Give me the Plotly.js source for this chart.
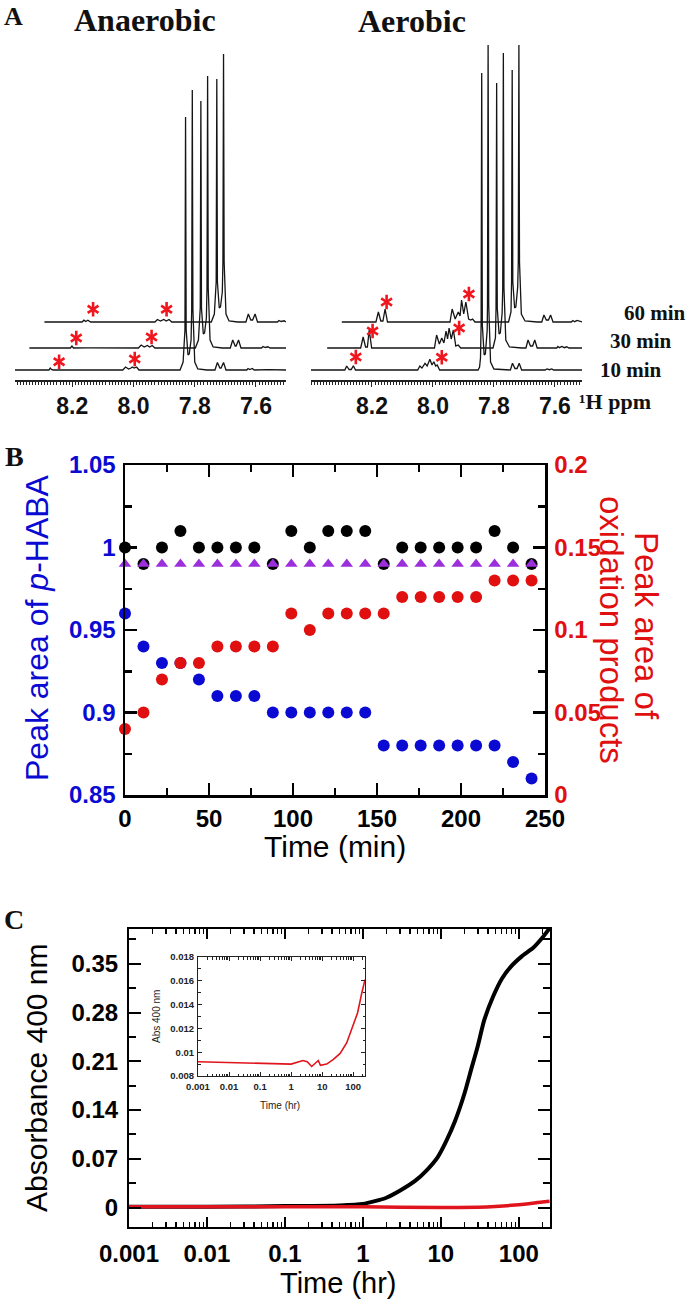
<!DOCTYPE html>
<html>
<head>
<meta charset="utf-8">
<script src="https://cdn.plot.ly/plotly-3.0.1.min.js"></script>
<style>
  html, body { margin: 0; padding: 0; background: #ffffff; }
  #chart { width: 693px; height: 1301px; }
</style>
</head>
<body>
<div id="chart"></div>
<script>
// ---------------- Panel A data: 1H NMR spectra (ppm, relative intensity) ----------------
const anaerobic10Ppm = [8.387, 8.30, 8.276, 8.272, 8.268, 8.262, 8.20, 8.10, 8.035, 8.026, 8.016, 8.008, 8.004, 7.998, 7.990, 7.982, 7.90, 7.848, 7.838, 7.832, 7.830, 7.828, 7.822, 7.818, 7.812, 7.810, 7.808, 7.806, 7.800, 7.790, 7.76, 7.734, 7.726, 7.718, 7.714, 7.706, 7.698, 7.66, 7.630, 7.626, 7.620, 7.612, 7.606, 7.56, 7.502];
const anaerobic10Int = [0, 0.3, 0, 2, 0.5, 0, 0.2, 0, 0, 3, 1, 2, 3, 2, 3, 0, 0, 0, 8, 40, 253, 40, 15, 16, 30, 60, 280, 60, 8, 1, 0, 0, 7.5, 2, 2, 7.5, 0, 0, 0, 1.5, 0.5, 1.5, 0, 0.3, 0];

const anaerobic30Ppm = [8.39, 8.30, 8.256, 8.251, 8.246, 8.20, 8.10, 8.034, 8.025, 8.015, 8.005, 7.997, 7.989, 7.980, 7.90, 7.848, 7.838, 7.832, 7.830, 7.828, 7.822, 7.818, 7.812, 7.810, 7.808, 7.806, 7.800, 7.790, 7.76, 7.734, 7.726, 7.718, 7.715, 7.707, 7.699, 7.66, 7.632, 7.627, 7.620, 7.611, 7.604, 7.552];
const anaerobic30Int = [0, 0.3, 0, 2, 0, 0.2, 0, 0, 3, 1, 2.5, 1, 2.5, 0, 0, 0, 8, 40, 247, 40, 14, 15, 30, 60, 272, 60, 8, 1, 0, 0, 8, 2, 2, 8, 0, 0, 0, 1.5, 0.5, 1.2, 0, 0];

const anaerobic60Ppm = [8.391, 8.30, 8.268, 8.262, 8.256, 8.249, 8.24, 8.10, 8.03, 8.022, 8.012, 8.001, 7.993, 7.984, 7.975, 7.90, 7.846, 7.836, 7.830, 7.828, 7.826, 7.820, 7.816, 7.810, 7.808, 7.806, 7.804, 7.798, 7.788, 7.76, 7.733, 7.725, 7.717, 7.711, 7.703, 7.695, 7.66, 7.63, 7.625, 7.618, 7.608, 7.602];
const anaerobic60Int = [0, 0.3, 0, 1.8, 0.5, 1.8, 0, 0, 0, 2.5, 1, 2.5, 1, 2.5, 0, 0, 0, 8, 40, 243, 40, 14, 15, 30, 60, 268, 60, 8, 1, 0, 0, 8, 2, 2, 8, 0, 0, 0, 1.5, 0.5, 1.2, 0];

const aerobic10Ppm = [8.40, 8.30, 8.289, 8.283, 8.275, 8.268, 8.261, 8.254, 8.20, 8.10, 8.05, 8.043, 8.036, 8.026, 8.019, 8.010, 8.003, 7.997, 7.991, 7.986, 7.978, 7.90, 7.852, 7.847, 7.844, 7.842, 7.840, 7.838, 7.832, 7.828, 7.822, 7.821, 7.819, 7.817, 7.811, 7.800, 7.76, 7.746, 7.739, 7.731, 7.724, 7.717, 7.709, 7.66, 7.632, 7.626, 7.618, 7.610, 7.604, 7.511];
const aerobic10Int = [0, 0.3, 0, 4, 0.5, 0.5, 4.3, 0, 0, 0, 0, 4, 2, 6.7, 4, 10.7, 5, 8.3, 4, 5, 0, 0, 0, 3, 12, 45, 297, 45, 15, 16, 40, 65, 327, 65, 8, 1, 0, 0, 6.7, 1.5, 1.5, 6.7, 0, 0, 0, 1, 0.3, 1, 0, 0];

const aerobic30Ppm = [8.398, 8.30, 8.288, 8.280, 8.272, 8.266, 8.260, 8.252, 8.20, 8.10, 8.046, 8.039, 8.030, 8.022, 8.015, 8.008, 8.003, 7.998, 7.991, 7.984, 7.976, 7.968, 7.960, 7.90, 7.854, 7.846, 7.844, 7.842, 7.840, 7.834, 7.830, 7.824, 7.822, 7.820, 7.818, 7.812, 7.800, 7.76, 7.746, 7.739, 7.731, 7.724, 7.717, 7.709, 7.66, 7.645, 7.641, 7.636, 7.628, 7.620, 7.612, 7.605, 7.562];
const aerobic30Int = [0, 0.3, 0, 11, 1, 1, 18, 0, 0, 0, 0, 13, 4, 10, 5, 17, 9, 20, 9, 18, 2, 3, 0, 0, 0, 10, 40, 265, 40, 14, 15, 35, 60, 295, 60, 8, 1, 0, 0, 8, 2, 2, 8, 0, 0, 0, 1.5, 0.3, 1.5, 0.3, 1.2, 0, 0];

const aerobic60Ppm = [8.401, 8.30, 8.289, 8.281, 8.273, 8.266, 8.259, 8.251, 8.20, 8.10, 8.046, 8.039, 8.029, 8.019, 8.013, 8.008, 8.001, 7.994, 7.985, 7.978, 7.972, 7.964, 7.90, 7.854, 7.846, 7.844, 7.842, 7.840, 7.834, 7.830, 7.824, 7.822, 7.820, 7.818, 7.812, 7.800, 7.76, 7.745, 7.738, 7.730, 7.723, 7.716, 7.708, 7.66, 7.648, 7.643, 7.637, 7.629, 7.620, 7.613];
const aerobic60Int = [0, 0.3, 0, 10, 1, 1, 13, 0, 0, 0, 0, 13, 3, 10, 6, 22, 8, 20, 3, 2, 3, 0, 0, 0, 10, 40, 252, 40, 14, 15, 35, 60, 278, 60, 8, 1, 0, 0, 7, 2, 2, 7, 0, 0, 0, 1.5, 0.3, 1.5, 0.5, 0];

// asterisk marks (ppm, height above own baseline)
const anaerobicStarPpm = [[8.243, 7.996], [8.237, 7.991], [8.232, 7.992]];
const anaerobicStarInt = [[8.3, 11], [10, 11], [12.7, 12.7]];
const aerobicStarPpm = [[8.253, 7.971], [8.249, 7.965], [8.254, 7.984]];
const aerobicStarInt = [[13, 12.7], [17, 20], [20, 28]];

const spectrumLabels = ['10 min', '30 min', '60 min'];
const ppmTickVals = [8.2, 8.0, 7.8, 7.6];
const ppmTickText = ['8.2', '8.0', '7.8', '7.6'];

// ---------------- Panel B data ----------------
const timeMin = [0, 11, 22, 33, 44, 55, 66, 77, 88, 99, 110, 121, 132, 143, 154, 165, 176, 187, 198, 209, 220, 231, 242];
const pHABA = [0.96, 0.94, 0.93, 0.93, 0.92, 0.91, 0.91, 0.91, 0.90, 0.90, 0.90, 0.90, 0.90, 0.90, 0.88, 0.88, 0.88, 0.88, 0.88, 0.88, 0.88, 0.87, 0.86];
const oxidationProducts = [0.04, 0.05, 0.07, 0.08, 0.08, 0.09, 0.09, 0.09, 0.09, 0.11, 0.10, 0.11, 0.11, 0.11, 0.11, 0.12, 0.12, 0.12, 0.12, 0.12, 0.13, 0.13, 0.13];
const blackSeries = [1.0, 0.99, 1.0, 1.01, 1.0, 1.0, 1.0, 1.0, 0.99, 1.01, 1.0, 1.01, 1.01, 1.01, 0.99, 1.0, 1.0, 1.0, 1.0, 1.0, 1.01, 1.0, 0.99];
const triangleSeries = [0.99, 0.99, 0.99, 0.99, 0.99, 0.99, 0.99, 0.99, 0.99, 0.99, 0.99, 0.99, 0.99, 0.99, 0.99, 0.99, 0.99, 0.99, 0.99, 0.99, 0.99, 0.99, 0.99];

// ---------------- Panel C data ----------------
const blackTimeHr = [0.001, 0.01, 0.1, 0.5, 1, 2, 2.97, 4.71, 6.53, 9.08, 11.8, 15.3, 20, 24.3, 29.6, 36, 46.8, 60.9, 79.2, 110, 153, 199, 248];
const blackAbs = [0.001, 0.001, 0.002, 0.003, 0.005, 0.014, 0.024, 0.0385, 0.053, 0.072, 0.096, 0.125, 0.163, 0.197, 0.231, 0.269, 0.303, 0.329, 0.346, 0.361, 0.373, 0.387, 0.401];
const redTimeHr = [0.001, 0.01, 0.1, 1, 10, 30, 50, 100, 150, 200, 248];
const redAbs = [0.001, 0.001, 0.001, 0.001, 0.0, 0.0005, 0.0015, 0.004, 0.006, 0.008, 0.009];
const insetTimeHr = [0.001, 0.01, 0.1, 1, 2.4, 3.3, 4.6, 7.5, 8.8, 14, 23, 38, 62, 100, 138, 190, 240];
const insetAbs = [0.0092, 0.00915, 0.0091, 0.0090, 0.0093, 0.0092, 0.0088, 0.0093, 0.0089, 0.0090, 0.0094, 0.0099, 0.0108, 0.0122, 0.0133, 0.0150, 0.0161];

// ---------------- Layout helpers (style only) ----------------
const W = 693, H = 1301;
const X = px => px / W;
const Y = py => 1 - py / H;
const SANS = 'Liberation Sans, Arial, sans-serif';
const SERIF = 'Liberation Serif, Times New Roman, serif';
const BLUE = '#0A0AD2', RED = '#E01010', PURPLE = '#9B2FDB', STAR = '#F0161E';
const baseOffset = [0, 22, 48];       // vertical stacking of spectra
const shiftLeft = 0.05, shiftRight = 0.051; // horizontal stacking (ppm)

const traces = [];
function addSpectra(ppmArrs, intArrs, shift, xa, ya) {
  ppmArrs.forEach((ppm, k) => {
    traces.push({
      type: 'scatter', mode: 'lines', xaxis: xa, yaxis: ya,
      x: ppm.map(p => p - k * shift),
      y: intArrs[k].map(v => v + baseOffset[k]),
      line: { color: '#151515', width: 1.3 }, hoverinfo: 'skip'
    });
  });
}
function addStars(ppmArrs, intArrs, shift, xa, ya) {
  const xs = [], ys = [];
  ppmArrs.forEach((pp, k) => pp.forEach((p, i) => {
    xs.push(p - k * shift); ys.push(intArrs[k][i] + baseOffset[k]);
  }));
  ['y-up-open', 'y-down-open'].forEach(sym => traces.push({
    type: 'scatter', mode: 'markers', xaxis: xa, yaxis: ya, x: xs, y: ys,
    cliponaxis: false,
    marker: { symbol: sym, size: 9, color: STAR, line: { color: STAR, width: 2.6 } }, hoverinfo: 'skip'
  }));
}
addSpectra([anaerobic10Ppm, anaerobic30Ppm, anaerobic60Ppm], [anaerobic10Int, anaerobic30Int, anaerobic60Int], shiftLeft, 'x', 'y');
addSpectra([aerobic10Ppm, aerobic30Ppm, aerobic60Ppm], [aerobic10Int, aerobic30Int, aerobic60Int], shiftRight, 'x2', 'y2');
addStars(anaerobicStarPpm, anaerobicStarInt, shiftLeft, 'x', 'y');
addStars(aerobicStarPpm, aerobicStarInt, shiftRight, 'x2', 'y2');

// Panel B
traces.push({ type: 'scatter', mode: 'markers', xaxis: 'x3', yaxis: 'y3', x: timeMin, y: pHABA, cliponaxis: false,
  marker: { symbol: 'circle', size: 12, color: BLUE }, name: 'p-HABA' });
traces.push({ type: 'scatter', mode: 'markers', xaxis: 'x3', yaxis: 'y4', x: timeMin, y: oxidationProducts, cliponaxis: false,
  marker: { symbol: 'circle', size: 12, color: RED }, name: 'oxidation products' });
traces.push({ type: 'scatter', mode: 'markers', xaxis: 'x3', yaxis: 'y3', x: timeMin, y: blackSeries, cliponaxis: false,
  marker: { symbol: 'circle', size: 12, color: '#000000' }, name: 'total' });
traces.push({ type: 'scatter', mode: 'markers', xaxis: 'x3', yaxis: 'y3', x: timeMin, y: triangleSeries, cliponaxis: false,
  marker: { symbol: 'triangle-up', size: 11, color: PURPLE }, name: 'control' });

// Panel C
traces.push({ type: 'scatter', mode: 'lines', xaxis: 'x4', yaxis: 'y5', x: blackTimeHr, y: blackAbs,
  line: { color: '#000000', width: 4, shape: 'spline', smoothing: 0.6 } });
traces.push({ type: 'scatter', mode: 'lines', xaxis: 'x4', yaxis: 'y5', x: redTimeHr, y: redAbs,
  line: { color: '#E0141C', width: 3.5, shape: 'spline', smoothing: 0.6 } });
traces.push({ type: 'scatter', mode: 'lines', xaxis: 'x5', yaxis: 'y6', x: insetTimeHr, y: insetAbs,
  line: { color: '#E0141C', width: 1.6 } });

const tf = (size, color) => ({ family: SANS, size: size, color: color || '#111111', weight: 'bold' });

const ppmAxis = (dom, range, anchor) => ({
  domain: dom, range: range, anchor: anchor, showline: true, linewidth: 1.5, linecolor: '#222222',
  ticks: 'outside', ticklen: 5, tickwidth: 1, tickcolor: '#222222',
  tickmode: 'array', tickvals: ppmTickVals, ticktext: ppmTickText,
  minor: { tickmode: 'linear', tick0: 0, dtick: 0.01, ticks: 'outside', ticklen: 3, tickwidth: 1, tickcolor: '#222222', showgrid: false },
  showgrid: false, zeroline: false, tickfont: tf(23), ticklabelstandoff: 0
});

const layout = {
  width: W, height: H, margin: { l: 0, r: 0, t: 0, b: 0 },
  paper_bgcolor: '#ffffff', plot_bgcolor: 'rgba(0,0,0,0)', showlegend: false,
  xaxis: ppmAxis([X(15), X(286)], [8.387, 7.502], 'y'),
  yaxis: { domain: [Y(380), Y(45)], range: [-10, 325], visible: false, anchor: 'x' },
  xaxis2: ppmAxis([X(311), X(582)], [8.40, 7.511], 'y2'),
  yaxis2: { domain: [Y(380), Y(45)], range: [-10, 325], visible: false, anchor: 'x2' },

  xaxis3: { domain: [X(125), X(545)], range: [0, 250], anchor: 'y3', showline: true, linewidth: 2.5, linecolor: '#000',
    mirror: 'ticks', ticks: 'inside', ticklen: 12, tickwidth: 2.5, tickcolor: '#000', tick0: 0, dtick: 50,
    minor: { dtick: 25, tick0: 0, ticks: 'inside', ticklen: 7, tickwidth: 2.5, tickcolor: '#000' },
    showgrid: false, zeroline: false, tickfont: tf(24, '#000'), ticklabelstandoff: 1 },
  yaxis3: { domain: [Y(795), Y(465)], range: [0.85, 1.05], anchor: 'x3', showline: true, linewidth: 2.5, linecolor: '#000',
    ticks: 'inside', ticklen: 12, tickwidth: 2.5, tickcolor: '#000', tick0: 0, dtick: 0.05,
    minor: { dtick: 0.025, tick0: 0, ticks: 'inside', ticklen: 7, tickwidth: 2.5, tickcolor: '#000' },
    showgrid: false, zeroline: false, tickfont: tf(24, BLUE), ticklabelstandoff: 2 },
  yaxis4: { overlaying: 'y3', side: 'right', range: [0, 0.2], anchor: 'x3', showline: true, linewidth: 2.5, linecolor: '#000',
    ticks: 'inside', ticklen: 12, tickwidth: 2.5, tickcolor: '#000', tick0: 0, dtick: 0.05,
    minor: { dtick: 0.025, tick0: 0, ticks: 'inside', ticklen: 7, tickwidth: 2.5, tickcolor: '#000' },
    showgrid: false, zeroline: false, tickfont: tf(24, RED), ticklabelstandoff: 2 },

  xaxis4: { domain: [X(129), X(550)], type: 'log', range: [-3, 2.4], anchor: 'y5', showline: true, linewidth: 2, linecolor: '#000',
    mirror: 'ticks', ticks: 'inside', ticklen: 10, tickwidth: 2, tickcolor: '#000',
    tickmode: 'linear', tick0: 0, dtick: 1, exponentformat: 'none',
    minor: { dtick: 'D1', ticks: 'inside', ticklen: 5, tickwidth: 1.5, tickcolor: '#000' },
    showgrid: false, zeroline: false, tickfont: tf(24, '#000'), ticklabelstandoff: 4 },
  yaxis5: { domain: [Y(1227), Y(929)], range: [-0.028, 0.40], anchor: 'x4', showline: true, linewidth: 2, linecolor: '#000',
    mirror: 'ticks', ticks: 'inside', ticklen: 12, tickwidth: 2, tickcolor: '#000', tick0: 0, dtick: 0.07,
    minor: { dtick: 0.035, tick0: 0, ticks: 'inside', ticklen: 7, tickwidth: 2, tickcolor: '#000' },
    showgrid: false, zeroline: false, tickfont: tf(24, '#000'), ticklabelstandoff: 4 },

  xaxis5: { domain: [X(198), X(365)], type: 'log', range: [-3, 2.38], anchor: 'y6', showline: true, linewidth: 1, linecolor: '#222',
    mirror: 'ticks', ticks: 'inside', ticklen: 4, tickwidth: 1, tickcolor: '#222',
    tickmode: 'linear', tick0: 0, dtick: 1, exponentformat: 'none',
    minor: { dtick: 'D1', ticks: 'inside', ticklen: 2.5, tickwidth: 1, tickcolor: '#222' },
    showgrid: false, zeroline: false, tickfont: tf(9.5, '#222'), ticklabelstandoff: 2 },
  yaxis6: { domain: [Y(1076), Y(957)], range: [0.008, 0.018], anchor: 'x5', showline: true, linewidth: 1, linecolor: '#222',
    mirror: 'ticks', ticks: 'inside', ticklen: 4, tickwidth: 1, tickcolor: '#222', tick0: 0, dtick: 0.002,
    minor: { dtick: 0.001, tick0: 0, ticks: 'inside', ticklen: 2.5, tickwidth: 1, tickcolor: '#222' },
    showgrid: false, zeroline: false, tickfont: tf(9.5, '#222'), ticklabelstandoff: 1 },

  annotations: []
};

function ann(text, xpx, ypx, opts) {
  const o = Object.assign({ text: text, xref: 'paper', yref: 'paper', x: X(xpx), y: Y(ypx),
    xanchor: 'center', yanchor: 'middle', showarrow: false }, opts || {});
  layout.annotations.push(o);
}
const serifB = (s) => ({ family: SERIF, size: s, color: '#111', weight: 'bold' });
const sans = (s, c) => ({ family: SANS, size: s, color: c || '#111' });

// Panel A labels
ann('A', 2, 17, { xanchor: 'left', font: serifB(26) });
ann('Anaerobic', 145, 20, { font: serifB(32) });
ann('Aerobic', 412, 21, { font: serifB(32) });
ann(spectrumLabels[2], 622, 313, { xanchor: 'left', font: serifB(21) });
ann(spectrumLabels[1], 608, 341, { xanchor: 'left', font: serifB(21) });
ann(spectrumLabels[0], 598, 370, { xanchor: 'left', font: serifB(21) });
ann('\u00B9H ppm', 577, 401, { xanchor: 'left', font: serifB(22) });

// Panel B labels
ann('B', 3, 457, { xanchor: 'left', font: serifB(28) });
ann('Peak area of <i>p</i>-HABA', 37, 628, { textangle: -90, font: sans(32, BLUE) });
ann('Peak area of', 647, 626, { textangle: 90, font: sans(33, RED) });
ann('oxidation products', 612, 630, { textangle: 90, font: sans(33, RED) });
ann('Time (min)', 335, 847, { font: sans(30, '#000') });

// Panel C labels
ann('C', 2, 919, { xanchor: 'left', font: serifB(28) });
ann('Absorbance 400 nm', 36, 1078, { textangle: -90, font: sans(30, '#000') });
ann('Time (hr)', 338, 1283, { font: sans(29, '#000') });
ann('Abs 400 nm', 156, 1017, { textangle: -90, font: sans(10, '#222') });
ann('Time (hr)', 280, 1105, { font: sans(10, '#222') });

Plotly.newPlot('chart', traces, layout, { staticPlot: true, displayModeBar: false });
</script>
</body>
</html>
